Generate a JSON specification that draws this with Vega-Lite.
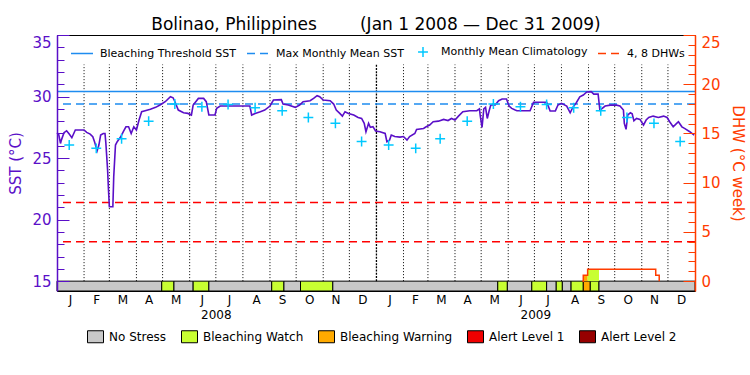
{
  "$schema": "https://vega.github.io/schema/vega-lite/v6.json",
  "width": 638,
  "height": 256,
  "autosize": {"type": "none"},
  "padding": {"left": 57, "top": 35, "right": 55, "bottom": 84},
  "background": "white",
  "config": {
    "view": {"stroke": "black", "strokeWidth": 1},
    "font": "DejaVu Sans",
    "axis": {"labelFont": "DejaVu Sans", "titleFont": "DejaVu Sans", "grid": false},
    "legend": {"labelFont": "DejaVu Sans", "titleFont": "DejaVu Sans"}
  },
  "title": {
    "text": "Bolinao, Philippines\u00a0\u00a0\u00a0\u00a0\u00a0\u00a0\u00a0\u00a0(Jan 1 2008 \u2014 Dec 31 2009)",
    "fontSize": 17,
    "font": "DejaVu Sans",
    "fontWeight": "normal",
    "color": "black",
    "anchor": "middle",
    "frame": "group",
    "offset": -16,
    "baseline": "bottom"
  },
  "datasets": {
    "status": [
      {"start": "2008-01-01", "end": "2008-04-30", "level": "No Stress"},
      {"start": "2008-04-30", "end": "2008-05-14", "level": "Bleaching Watch"},
      {"start": "2008-05-14", "end": "2008-06-05", "level": "No Stress"},
      {"start": "2008-06-05", "end": "2008-06-23", "level": "Bleaching Watch"},
      {"start": "2008-06-23", "end": "2008-09-03", "level": "No Stress"},
      {"start": "2008-09-03", "end": "2008-09-17", "level": "Bleaching Watch"},
      {"start": "2008-09-17", "end": "2008-10-06", "level": "No Stress"},
      {"start": "2008-10-06", "end": "2008-11-12", "level": "Bleaching Watch"},
      {"start": "2008-11-12", "end": "2009-05-20", "level": "No Stress"},
      {"start": "2009-05-20", "end": "2009-05-31", "level": "Bleaching Watch"},
      {"start": "2009-05-31", "end": "2009-06-28", "level": "No Stress"},
      {"start": "2009-06-28", "end": "2009-07-15", "level": "Bleaching Watch"},
      {"start": "2009-07-15", "end": "2009-07-26", "level": "No Stress"},
      {"start": "2009-07-26", "end": "2009-08-02", "level": "Bleaching Watch"},
      {"start": "2009-08-02", "end": "2009-08-12", "level": "No Stress"},
      {"start": "2009-08-12", "end": "2009-08-26", "level": "Bleaching Watch"},
      {"start": "2009-08-26", "end": "2009-09-03", "level": "Bleaching Warning"},
      {"start": "2009-09-03", "end": "2009-09-13", "level": "Bleaching Watch"},
      {"start": "2009-09-13", "end": "2010-01-01", "level": "No Stress"}
    ],
    "dhwfill": [
      {"start": "2009-08-26", "end": "2009-08-31", "level": "Bleaching Warning", "dhw": 0.6},
      {"start": "2009-08-31", "end": "2009-09-13", "level": "Bleaching Watch", "dhw": 1.2}
    ],
    "dhw": [
      {"date": "2009-08-25", "dhw": 0},
      {"date": "2009-08-26", "dhw": 0.6},
      {"date": "2009-08-31", "dhw": 1.2},
      {"date": "2009-11-17", "dhw": 0.6},
      {"date": "2009-11-21", "dhw": 0}
    ],
    "months": [
      {"date": "2008-02-01"}, {"date": "2008-03-01"}, {"date": "2008-04-01"}, {"date": "2008-05-01"},
      {"date": "2008-06-01"}, {"date": "2008-07-01"}, {"date": "2008-08-01"}, {"date": "2008-09-01"},
      {"date": "2008-10-01"}, {"date": "2008-11-01"}, {"date": "2008-12-01"}, {"date": "2009-01-01"},
      {"date": "2009-02-01"}, {"date": "2009-03-01"}, {"date": "2009-04-01"}, {"date": "2009-05-01"},
      {"date": "2009-06-01"}, {"date": "2009-07-01"}, {"date": "2009-08-01"}, {"date": "2009-09-01"},
      {"date": "2009-10-01"}, {"date": "2009-11-01"}, {"date": "2009-12-01"}
    ],
    "clim": [
      {"date": "2008-01-15", "clim": 26.06, "series": "Monthly Mean Climatology"},
      {"date": "2008-02-15", "clim": 25.79, "series": "Monthly Mean Climatology"},
      {"date": "2008-03-15", "clim": 26.57, "series": "Monthly Mean Climatology"},
      {"date": "2008-04-15", "clim": 28.0, "series": "Monthly Mean Climatology"},
      {"date": "2008-05-15", "clim": 29.39, "series": "Monthly Mean Climatology"},
      {"date": "2008-06-15", "clim": 29.17, "series": "Monthly Mean Climatology"},
      {"date": "2008-07-15", "clim": 29.35, "series": "Monthly Mean Climatology"},
      {"date": "2008-08-15", "clim": 29.09, "series": "Monthly Mean Climatology"},
      {"date": "2008-09-15", "clim": 28.85, "series": "Monthly Mean Climatology"},
      {"date": "2008-10-15", "clim": 28.3, "series": "Monthly Mean Climatology"},
      {"date": "2008-11-15", "clim": 27.82, "series": "Monthly Mean Climatology"},
      {"date": "2008-12-15", "clim": 26.35, "series": "Monthly Mean Climatology"},
      {"date": "2009-01-15", "clim": 26.06, "series": "Monthly Mean Climatology"},
      {"date": "2009-02-15", "clim": 25.79, "series": "Monthly Mean Climatology"},
      {"date": "2009-03-15", "clim": 26.57, "series": "Monthly Mean Climatology"},
      {"date": "2009-04-15", "clim": 28.0, "series": "Monthly Mean Climatology"},
      {"date": "2009-05-15", "clim": 29.39, "series": "Monthly Mean Climatology"},
      {"date": "2009-06-15", "clim": 29.17, "series": "Monthly Mean Climatology"},
      {"date": "2009-07-15", "clim": 29.35, "series": "Monthly Mean Climatology"},
      {"date": "2009-08-15", "clim": 29.09, "series": "Monthly Mean Climatology"},
      {"date": "2009-09-15", "clim": 28.85, "series": "Monthly Mean Climatology"},
      {"date": "2009-10-15", "clim": 28.3, "series": "Monthly Mean Climatology"},
      {"date": "2009-11-15", "clim": 27.82, "series": "Monthly Mean Climatology"},
      {"date": "2009-12-15", "clim": 26.35, "series": "Monthly Mean Climatology"}
    ],
    "sst": [
      {"date": "2008-01-01", "sst": 27.06}, {"date": "2008-01-03", "sst": 26.9}, {"date": "2008-01-05", "sst": 26.19},
      {"date": "2008-01-06", "sst": 26.46}, {"date": "2008-01-09", "sst": 27.06}, {"date": "2008-01-12", "sst": 27.22},
      {"date": "2008-01-15", "sst": 26.95}, {"date": "2008-01-18", "sst": 26.65}, {"date": "2008-01-22", "sst": 27.28},
      {"date": "2008-02-01", "sst": 27.28}, {"date": "2008-02-04", "sst": 27.09}, {"date": "2008-02-08", "sst": 26.95},
      {"date": "2008-02-11", "sst": 26.73}, {"date": "2008-02-13", "sst": 26.33}, {"date": "2008-02-16", "sst": 25.6},
      {"date": "2008-02-18", "sst": 26.06}, {"date": "2008-02-20", "sst": 26.87}, {"date": "2008-02-23", "sst": 27.0},
      {"date": "2008-02-25", "sst": 27.0}, {"date": "2008-02-26", "sst": 26.19}, {"date": "2008-02-27", "sst": 25.1},
      {"date": "2008-02-28", "sst": 24.0}, {"date": "2008-02-29", "sst": 22.4}, {"date": "2008-03-01", "sst": 21.04},
      {"date": "2008-03-05", "sst": 21.04}, {"date": "2008-03-06", "sst": 23.48}, {"date": "2008-03-08", "sst": 26.06},
      {"date": "2008-03-10", "sst": 26.33}, {"date": "2008-03-14", "sst": 26.73}, {"date": "2008-03-17", "sst": 27.14},
      {"date": "2008-03-20", "sst": 27.54}, {"date": "2008-03-23", "sst": 27.54}, {"date": "2008-03-26", "sst": 27.0},
      {"date": "2008-03-29", "sst": 27.54}, {"date": "2008-04-01", "sst": 27.28}, {"date": "2008-04-04", "sst": 28.09},
      {"date": "2008-04-07", "sst": 28.77}, {"date": "2008-04-11", "sst": 28.85}, {"date": "2008-04-17", "sst": 28.96},
      {"date": "2008-04-23", "sst": 29.12}, {"date": "2008-04-28", "sst": 29.31}, {"date": "2008-05-04", "sst": 29.58},
      {"date": "2008-05-10", "sst": 29.98}, {"date": "2008-05-13", "sst": 29.9}, {"date": "2008-05-15", "sst": 29.6},
      {"date": "2008-05-19", "sst": 28.9}, {"date": "2008-05-25", "sst": 28.68}, {"date": "2008-05-30", "sst": 28.63},
      {"date": "2008-06-03", "sst": 28.5}, {"date": "2008-06-05", "sst": 29.31}, {"date": "2008-06-11", "sst": 29.85},
      {"date": "2008-06-17", "sst": 29.85}, {"date": "2008-06-20", "sst": 29.58}, {"date": "2008-06-23", "sst": 28.5},
      {"date": "2008-06-30", "sst": 28.5}, {"date": "2008-07-02", "sst": 29.04}, {"date": "2008-07-06", "sst": 29.23},
      {"date": "2008-08-09", "sst": 29.23}, {"date": "2008-08-11", "sst": 28.5}, {"date": "2008-08-15", "sst": 28.63},
      {"date": "2008-08-21", "sst": 28.77}, {"date": "2008-08-26", "sst": 28.9}, {"date": "2008-09-01", "sst": 29.23},
      {"date": "2008-09-05", "sst": 29.72}, {"date": "2008-09-14", "sst": 29.75}, {"date": "2008-09-16", "sst": 29.39},
      {"date": "2008-09-22", "sst": 29.31}, {"date": "2008-09-30", "sst": 29.12}, {"date": "2008-10-05", "sst": 29.31},
      {"date": "2008-10-09", "sst": 29.58}, {"date": "2008-10-17", "sst": 29.66}, {"date": "2008-10-21", "sst": 29.85},
      {"date": "2008-10-25", "sst": 30.07}, {"date": "2008-10-28", "sst": 29.98}, {"date": "2008-11-01", "sst": 29.72},
      {"date": "2008-11-09", "sst": 29.66}, {"date": "2008-11-13", "sst": 29.39}, {"date": "2008-11-16", "sst": 28.9},
      {"date": "2008-11-20", "sst": 28.63}, {"date": "2008-11-23", "sst": 28.41}, {"date": "2008-11-26", "sst": 28.77},
      {"date": "2008-11-30", "sst": 28.63}, {"date": "2008-12-06", "sst": 28.5}, {"date": "2008-12-11", "sst": 28.3},
      {"date": "2008-12-15", "sst": 28.22}, {"date": "2008-12-18", "sst": 27.82}, {"date": "2008-12-20", "sst": 27.14},
      {"date": "2008-12-23", "sst": 27.82}, {"date": "2008-12-25", "sst": 27.5}, {"date": "2008-12-28", "sst": 27.55},
      {"date": "2008-12-31", "sst": 27.2}, {"date": "2009-01-05", "sst": 27.14}, {"date": "2009-01-11", "sst": 27.0},
      {"date": "2009-01-13", "sst": 26.33}, {"date": "2009-01-16", "sst": 26.46}, {"date": "2009-01-18", "sst": 26.87},
      {"date": "2009-01-22", "sst": 26.75}, {"date": "2009-01-28", "sst": 26.7}, {"date": "2009-02-01", "sst": 26.75},
      {"date": "2009-02-05", "sst": 26.46}, {"date": "2009-02-08", "sst": 26.75}, {"date": "2009-02-14", "sst": 27.0},
      {"date": "2009-02-16", "sst": 27.33}, {"date": "2009-02-24", "sst": 27.4}, {"date": "2009-02-27", "sst": 27.54},
      {"date": "2009-03-03", "sst": 27.68}, {"date": "2009-03-07", "sst": 27.95}, {"date": "2009-03-13", "sst": 28.0},
      {"date": "2009-03-19", "sst": 28.14}, {"date": "2009-03-24", "sst": 28.05}, {"date": "2009-03-28", "sst": 28.22},
      {"date": "2009-04-01", "sst": 28.09}, {"date": "2009-04-05", "sst": 28.41}, {"date": "2009-04-10", "sst": 28.77},
      {"date": "2009-04-18", "sst": 28.85}, {"date": "2009-04-26", "sst": 28.85}, {"date": "2009-04-29", "sst": 29.0},
      {"date": "2009-04-30", "sst": 28.4}, {"date": "2009-05-02", "sst": 27.5}, {"date": "2009-05-04", "sst": 29.0},
      {"date": "2009-05-06", "sst": 29.12}, {"date": "2009-05-08", "sst": 28.22}, {"date": "2009-05-10", "sst": 28.8},
      {"date": "2009-05-12", "sst": 29.31}, {"date": "2009-05-17", "sst": 29.31}, {"date": "2009-05-21", "sst": 29.66},
      {"date": "2009-05-25", "sst": 29.8}, {"date": "2009-05-30", "sst": 29.8}, {"date": "2009-06-02", "sst": 29.23},
      {"date": "2009-06-05", "sst": 29.04}, {"date": "2009-06-09", "sst": 28.9}, {"date": "2009-06-11", "sst": 28.85},
      {"date": "2009-06-26", "sst": 28.85}, {"date": "2009-06-30", "sst": 29.53}, {"date": "2009-07-15", "sst": 29.53},
      {"date": "2009-07-17", "sst": 29.2}, {"date": "2009-07-19", "sst": 28.83}, {"date": "2009-07-25", "sst": 28.83},
      {"date": "2009-07-28", "sst": 29.31}, {"date": "2009-08-01", "sst": 29.45}, {"date": "2009-08-07", "sst": 29.23},
      {"date": "2009-08-11", "sst": 28.68}, {"date": "2009-08-14", "sst": 29.12}, {"date": "2009-08-18", "sst": 29.5},
      {"date": "2009-08-22", "sst": 29.98}, {"date": "2009-08-26", "sst": 30.12}, {"date": "2009-08-30", "sst": 30.37},
      {"date": "2009-09-04", "sst": 30.4}, {"date": "2009-09-07", "sst": 30.2}, {"date": "2009-09-12", "sst": 30.2},
      {"date": "2009-09-14", "sst": 28.9}, {"date": "2009-09-16", "sst": 29.0}, {"date": "2009-09-20", "sst": 29.23},
      {"date": "2009-09-26", "sst": 29.3}, {"date": "2009-10-03", "sst": 29.3}, {"date": "2009-10-07", "sst": 29.23},
      {"date": "2009-10-11", "sst": 28.9}, {"date": "2009-10-12", "sst": 27.82}, {"date": "2009-10-14", "sst": 27.33},
      {"date": "2009-10-16", "sst": 28.5}, {"date": "2009-10-19", "sst": 28.68}, {"date": "2009-10-21", "sst": 28.6},
      {"date": "2009-10-23", "sst": 28.03}, {"date": "2009-10-26", "sst": 28.22}, {"date": "2009-10-30", "sst": 28.14},
      {"date": "2009-11-03", "sst": 27.68}, {"date": "2009-11-06", "sst": 28.09}, {"date": "2009-11-09", "sst": 28.3},
      {"date": "2009-11-14", "sst": 28.41}, {"date": "2009-11-20", "sst": 28.3}, {"date": "2009-11-26", "sst": 28.41},
      {"date": "2009-11-30", "sst": 28.3}, {"date": "2009-12-03", "sst": 27.95}, {"date": "2009-12-07", "sst": 27.54},
      {"date": "2009-12-11", "sst": 27.82}, {"date": "2009-12-13", "sst": 27.95}, {"date": "2009-12-17", "sst": 27.54},
      {"date": "2009-12-20", "sst": 27.41}, {"date": "2009-12-26", "sst": 27.14}, {"date": "2009-12-31", "sst": 26.87}
    ]
  },
  "layer": [
    {
      "data": {"name": "status"},
      "mark": {"type": "rect", "stroke": "black", "strokeWidth": 1},
      "encoding": {
        "x": {"field": "start", "type": "temporal", "scale": {"type": "utc", "domain": [{"year": 2008, "month": 1, "date": 1, "utc": true}, {"year": 2010, "month": 1, "date": 1, "utc": true}]}, "axis": null},
        "x2": {"field": "end"},
        "y": {"datum": 0, "type": "quantitative", "scale": {"domain": [-1, 25], "nice": false, "zero": false}, "axis": null},
        "y2": {"datum": -1},
        "fill": {
          "field": "level", "type": "nominal",
          "scale": {"domain": ["No Stress", "Bleaching Watch", "Bleaching Warning", "Alert Level 1", "Alert Level 2"], "range": ["#c8c8c8", "#c8ff32", "#ffaa00", "#f00000", "#960000"]},
          "legend": {
            "title": null, "orient": "none", "legendX": 30, "legendY": 293, "direction": "horizontal",
            "symbolType": "M-1,-0.75H1V0.75H-1Z", "symbolSize": 256, "symbolStrokeColor": "black", "symbolStrokeWidth": 1, "symbolOpacity": 1,
            "labelFontSize": 12, "labelColor": "black", "labelOffset": 5, "columnPadding": 12, "padding": 0
          }
        }
      }
    },
    {
      "data": {"name": "months"},
      "mark": {"type": "rule", "color": "black"},
      "encoding": {
        "x": {"field": "date", "type": "temporal", "scale": {"type": "utc", "domain": [{"year": 2008, "month": 1, "date": 1, "utc": true}, {"year": 2010, "month": 1, "date": 1, "utc": true}]}, "axis": null},
        "y": {"datum": 15, "type": "quantitative", "scale": {"domain": [14.2, 35], "nice": false, "zero": false}, "axis": null},
        "y2": {"datum": 32.6},
        "strokeWidth": {"condition": {"test": "utcmonth(datum.date) === 0", "value": 1.3}, "value": 1},
        "strokeDash": {"condition": {"test": "utcmonth(datum.date) === 0", "value": [2, 1.2]}, "value": [1, 2]}
      }
    },
    {
      "data": {"values": [{"dhw": 4}, {"dhw": 8}]},
      "mark": {"type": "rule", "color": "#ff0000", "strokeWidth": 1.5, "strokeDash": [8, 5]},
      "encoding": {
        "y": {"field": "dhw", "type": "quantitative", "scale": {"domain": [-1, 25], "nice": false, "zero": false},
          "axis": {"orient": "right", "values": [0,1,2,3,4,5,6,7,8,9,10,11,12,13,14,15,16,17,18,19,20,21,22,23,24,25], "tickSize": -7, "tickColor": "#ff3c00", "labels": false, "domain": false, "title": null, "grid": false, "zindex": 1}}
      }
    },
    {
      "data": {"values": [{"name": "Bleaching Threshold SST", "sst": 30.4}, {"name": "Max Monthly Mean SST", "sst": 29.4}]},
      "mark": {"type": "rule", "color": "#1e8cf0", "strokeWidth": 1.5},
      "encoding": {
        "y": {"field": "sst", "type": "quantitative", "scale": {"domain": [14.2, 35], "nice": false, "zero": false},
          "axis": {"orient": "left", "values": [15,16,17,18,19,20,21,22,23,24,25,26,27,28,29,30,31,32,33,34,35], "tickSize": -7, "tickColor": "#5a0fc8", "labels": false, "domain": false, "title": null, "grid": false, "zindex": 1}},
        "strokeDash": {"condition": {"test": "datum.name === 'Max Monthly Mean SST'", "value": [8, 5]}, "value": [1, 0]}
      }
    },
    {
      "data": {"name": "sst"},
      "mark": {"type": "line", "color": "#5a0fc8", "strokeWidth": 1.6},
      "encoding": {
        "x": {"field": "date", "type": "temporal", "scale": {"type": "utc", "domain": [{"year": 2008, "month": 1, "date": 1, "utc": true}, {"year": 2010, "month": 1, "date": 1, "utc": true}]},
          "axis": {
            "orient": "bottom",
            "values": [
              {"year": 2008, "month": 1, "date": 16, "utc": true}, {"year": 2008, "month": 2, "date": 15, "utc": true}, {"year": 2008, "month": 3, "date": 16, "utc": true},
              {"year": 2008, "month": 4, "date": 15, "utc": true}, {"year": 2008, "month": 5, "date": 16, "utc": true}, {"year": 2008, "month": 6, "date": 15, "utc": true},
              {"year": 2008, "month": 7, "date": 16, "utc": true}, {"year": 2008, "month": 8, "date": 16, "utc": true}, {"year": 2008, "month": 9, "date": 15, "utc": true},
              {"year": 2008, "month": 10, "date": 16, "utc": true}, {"year": 2008, "month": 11, "date": 15, "utc": true}, {"year": 2008, "month": 12, "date": 16, "utc": true},
              {"year": 2009, "month": 1, "date": 16, "utc": true}, {"year": 2009, "month": 2, "date": 14, "utc": true}, {"year": 2009, "month": 3, "date": 16, "utc": true},
              {"year": 2009, "month": 4, "date": 15, "utc": true}, {"year": 2009, "month": 5, "date": 16, "utc": true}, {"year": 2009, "month": 6, "date": 15, "utc": true},
              {"year": 2009, "month": 7, "date": 16, "utc": true}, {"year": 2009, "month": 8, "date": 16, "utc": true}, {"year": 2009, "month": 9, "date": 15, "utc": true},
              {"year": 2009, "month": 10, "date": 16, "utc": true}, {"year": 2009, "month": 11, "date": 15, "utc": true}, {"year": 2009, "month": 12, "date": 16, "utc": true}
            ],
            "format": "%b", "labelExpr": "substring(datum.label, 0, 1)",
            "ticks": false, "domain": false, "grid": false, "labelPadding": 3, "labelFontSize": 12, "labelColor": "black",
            "labelAngle": 0, "labelFlush": false, "labelOverlap": false, "title": null
          }},
        "y": {"field": "sst", "type": "quantitative", "scale": {"domain": [14.2, 35], "nice": false, "zero": false},
          "axis": {
            "orient": "left", "values": [15, 20, 25, 30, 35], "tickSize": -12, "tickColor": "#5a0fc8", "tickWidth": 1,
            "domainColor": "#5a0fc8", "domainWidth": 1.5, "labelColor": "#5a0fc8", "labelFontSize": 15, "labelPadding": 18,
            "labelBaseline": {"condition": {"test": "datum.value === 35", "value": "top"}, "value": "middle"},
            "labelFlush": false, "title": "SST (°C)", "titleColor": "#5a0fc8", "titleFontSize": 15, "titleFontWeight": "normal",
            "titlePadding": 8, "grid": false, "zindex": 1
          }}
      }
    },
    {
      "data": {"name": "clim"},
      "mark": {"type": "point", "filled": false, "strokeWidth": 1.5, "size": 484, "opacity": 1},
      "encoding": {
        "x": {"field": "date", "type": "temporal", "scale": {"type": "utc", "domain": [{"year": 2008, "month": 1, "date": 1, "utc": true}, {"year": 2010, "month": 1, "date": 1, "utc": true}]},
          "axis": {
            "orient": "bottom",
            "values": [{"year": 2008, "month": 7, "date": 1, "utc": true}, {"year": 2009, "month": 7, "date": 2, "utc": true}],
            "format": "%Y", "ticks": false, "domain": false, "grid": false, "labelPadding": 18, "labelFontSize": 12,
            "labelColor": "black", "labelFlush": false, "labelOverlap": false, "labelAngle": 0, "title": null
          }},
        "y": {"field": "clim", "type": "quantitative", "scale": {"domain": [14.2, 35], "nice": false, "zero": false}, "axis": null},
        "color": {
          "field": "series", "type": "nominal",
          "scale": {"domain": ["Bleaching Threshold SST", "Max Monthly Mean SST", "Monthly Mean Climatology", "4, 8 DHWs"], "range": ["#1e8cf0", "#1e8cf0", "#00c8ff", "#ff3c00"]},
          "legend": {
            "title": null, "orient": "none", "legendX": 13, "legendY": 5, "direction": "horizontal",
            "symbolSize": 484, "symbolStrokeWidth": 1.5, "symbolOpacity": 1,
            "labelFontSize": 11, "labelOffset": 6, "columnPadding": 7, "padding": 0,
            "encode": {"labels": {"update": {"fill": {"signal": "datum.label === '4, 8 DHWs' ? '#ff3c00' : '#5a0fc8'"}}}}
          }
        },
        "shape": {
          "field": "series", "type": "nominal",
          "scale": {"domain": ["Bleaching Threshold SST", "Max Monthly Mean SST", "Monthly Mean Climatology", "4, 8 DHWs"], "range": ["M-1,0H1", "M-1,0H1", "M-0.45,0H0.45M0,-0.45V0.45", "M-1,0H1"]}
        },
        "strokeDash": {
          "field": "series", "type": "nominal",
          "scale": {"domain": ["Bleaching Threshold SST", "Max Monthly Mean SST", "Monthly Mean Climatology", "4, 8 DHWs"], "range": [[1, 0], [8, 5], [1, 0], [8, 5]]}
        }
      }
    },
    {
      "data": {"name": "dhwfill"},
      "mark": {"type": "rect"},
      "encoding": {
        "x": {"field": "start", "type": "temporal", "scale": {"type": "utc", "domain": [{"year": 2008, "month": 1, "date": 1, "utc": true}, {"year": 2010, "month": 1, "date": 1, "utc": true}]}, "axis": null},
        "x2": {"field": "end"},
        "y": {"field": "dhw", "type": "quantitative", "scale": {"domain": [-1, 25], "nice": false, "zero": false}, "axis": null},
        "y2": {"datum": 0},
        "fill": {"field": "level", "type": "nominal", "scale": {"domain": ["No Stress", "Bleaching Watch", "Bleaching Warning", "Alert Level 1", "Alert Level 2"], "range": ["#c8c8c8", "#c8ff32", "#ffaa00", "#f00000", "#960000"]}}
      }
    },
    {
      "data": {"name": "dhw"},
      "mark": {"type": "line", "color": "#ff3c00", "strokeWidth": 1.5, "interpolate": "step-after"},
      "encoding": {
        "x": {"field": "date", "type": "temporal", "scale": {"type": "utc", "domain": [{"year": 2008, "month": 1, "date": 1, "utc": true}, {"year": 2010, "month": 1, "date": 1, "utc": true}]}, "axis": null},
        "y": {"field": "dhw", "type": "quantitative", "scale": {"domain": [-1, 25], "nice": false, "zero": false},
          "axis": {
            "orient": "right", "values": [0, 5, 10, 15, 20, 25], "tickSize": -12, "tickColor": "#ff3c00", "tickWidth": 1,
            "domainColor": "#ff3c00", "domainWidth": 1.5, "labelColor": "#ff3c00", "labelFontSize": 15, "labelPadding": 18,
            "labelBaseline": {"condition": {"test": "datum.value === 25", "value": "top"}, "value": "middle"},
            "labelFlush": false, "title": "DHW (°C week)", "titleColor": "#ff3c00", "titleFontSize": 15, "titleFontWeight": "normal",
            "titlePadding": 9, "grid": false, "zindex": 1
          }}
      }
    }
  ],
  "resolve": {"scale": {"y": "independent"}, "axis": {"y": "independent", "x": "independent"}}
}
